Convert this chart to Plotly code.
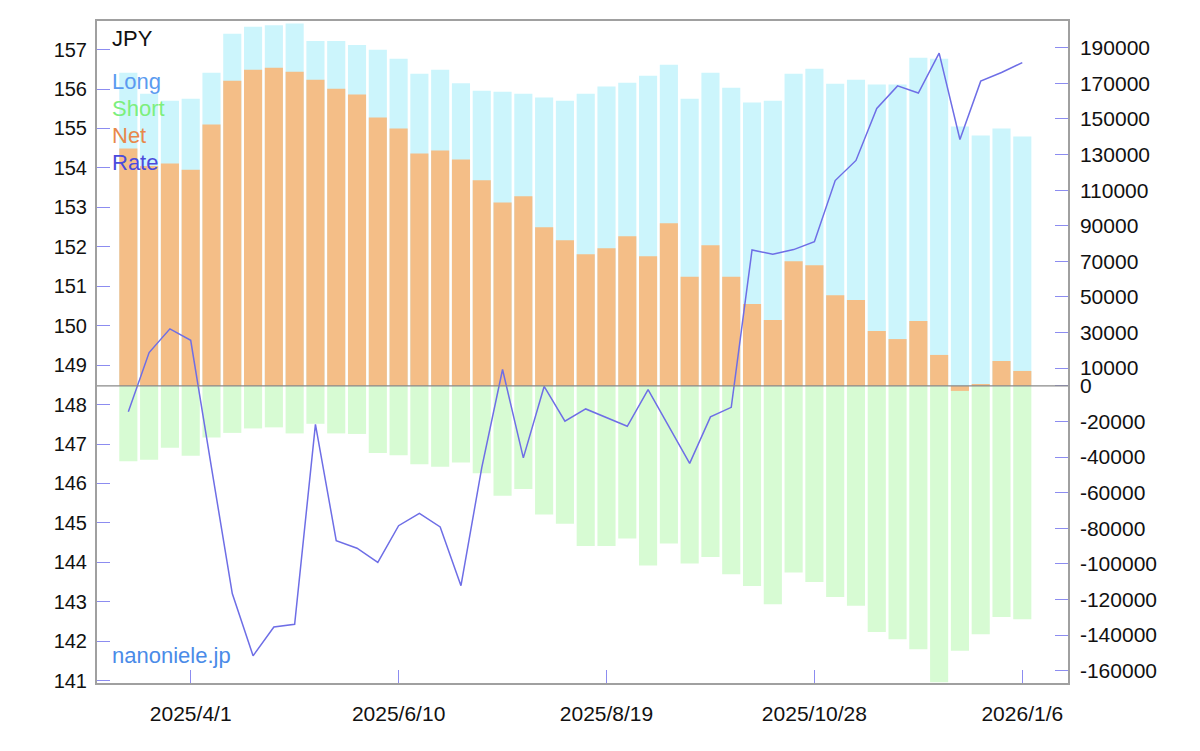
import plotly.graph_objects as go

dates = ["2025-03-11", "2025-03-18", "2025-03-25", "2025-04-01", "2025-04-08", "2025-04-15",
         "2025-04-22", "2025-04-29", "2025-05-06", "2025-05-13", "2025-05-20", "2025-05-27",
         "2025-06-03", "2025-06-10", "2025-06-17", "2025-06-24", "2025-07-01", "2025-07-08",
         "2025-07-15", "2025-07-22", "2025-07-29", "2025-08-05", "2025-08-12", "2025-08-19",
         "2025-08-26", "2025-09-02", "2025-09-09", "2025-09-16", "2025-09-23", "2025-09-30",
         "2025-10-07", "2025-10-14", "2025-10-21", "2025-10-28", "2025-11-04", "2025-11-11",
         "2025-11-18", "2025-11-25", "2025-12-02", "2025-12-09", "2025-12-16", "2025-12-23",
         "2025-12-30", "2026-01-06"]

long_pos = [176000, 164200, 160300, 161400, 176000, 197900, 201800, 202700, 203600, 193800,
            193800, 191500, 188900, 183800, 175400, 177700, 170000, 165900, 165300, 164200,
            162000, 160300, 164200, 168200, 170400, 174300, 180500, 161400, 176000, 167600,
            159200, 160300, 175400, 178200, 169800, 172100, 169300, 169300, 184400, 183800,
            145700, 140700, 144600, 140100]

short_pos = [-42400, -41500, -34800, -39200, -29000, -26400, -23900, -23300, -26700, -21300,
             -26700, -27000, -37700, -39000, -44100, -45500, -43000, -49100, -61700, -57900,
             -72300, -77400, -90000, -90000, -85800, -100900, -88600, -99800, -96200, -105900,
             -112500, -122700, -104800, -110200, -118600, -123600, -138300, -142400, -148000, -166500,
             -148900, -139600, -129900, -131200]

net_pos = [133400, 123500, 125000, 121500, 146900, 171500, 177700, 178800, 176600, 172100,
           167000, 163700, 150800, 144600, 130600, 132300, 127200, 115500, 103100, 106500,
           89100, 81800, 74000, 77300, 84100, 72900, 91400, 61300, 79000, 61300,
           46000, 37000, 70100, 67800, 51000, 48200, 30800, 26300, 36400, 17400,
           -2800, 700, 14000, 8400]

rate = [147.82, 149.32, 149.92, 149.63, 146.40, 143.21, 141.63, 142.36, 142.43, 147.50,
        144.55, 144.36, 144.00, 144.93, 145.24, 144.90, 143.41, 146.40, 148.89, 146.65,
        148.46, 147.58, 147.89, 147.66, 147.45, 148.38, 147.45, 146.51, 147.69, 147.93,
        151.92, 151.81, 151.93, 152.13, 153.68, 154.19, 155.51, 156.08, 155.90, 156.91,
        154.72, 156.20, 156.42, 156.67]

x_tickvals = ["2025-04-01", "2025-06-10", "2025-08-19", "2025-10-28", "2026-01-06"]
x_ticktext = ["2025/4/1", "2025/6/10", "2025/8/19", "2025/10/28", "2026/1/6"]

pos_tickvals = [-160000, -140000, -120000, -100000, -80000, -60000, -40000, -20000, 0,
                10000, 30000, 50000, 70000, 90000, 110000, 130000, 150000, 170000, 190000]
pos_ticktext = [str(v) for v in pos_tickvals]
rate_tickvals = list(range(141, 158))

FONT = "Liberation Sans, Arial, Helvetica, sans-serif"
bar_w = 6.1 * 86400000

fig = go.Figure()
fig.add_trace(go.Bar(x=dates, y=long_pos, name="Long", width=bar_w,
                     marker=dict(color="#CCF5FC", line=dict(width=0)), yaxis="y"))
fig.add_trace(go.Bar(x=dates, y=short_pos, name="Short", width=bar_w,
                     marker=dict(color="#D7FBD3", line=dict(width=0)), yaxis="y"))
fig.add_trace(go.Bar(x=dates, y=net_pos, name="Net", width=bar_w,
                     marker=dict(color="#F4BE87", line=dict(width=0)), yaxis="y"))
fig.add_trace(go.Scatter(x=dates, y=rate, name="Rate", mode="lines",
                         line=dict(color="#6E6EE6", width=1.5), yaxis="y2"))

tickc = "#8C8CF0"
fig.update_layout(
    width=1200, height=751,
    margin=dict(l=89, r=140, t=11, b=76),
    paper_bgcolor="white", plot_bgcolor="white",
    barmode="overlay", showlegend=False,
    font=dict(family=FONT, size=21, color="#111"),
    xaxis=dict(type="date", range=["2025-02-28 10:48", "2026-01-21 09:20"],
               tickvals=x_tickvals, ticktext=x_ticktext,
               ticks="inside", ticklen=13, tickcolor=tickc, tickwidth=1,
               showline=True, linecolor="#A0A0A0", linewidth=1.5, mirror=True,
               showgrid=False, zeroline=False, ticklabelstandoff=11,
               tickfont=dict(size=21, color="#111")),
    yaxis=dict(side="right", range=[-166955, 205050], tickvals=pos_tickvals,
               ticktext=pos_ticktext,
               ticks="inside", ticklen=13, tickcolor=tickc, tickwidth=1,
               showline=True, linecolor="#A0A0A0", linewidth=1.5, mirror=True,
               showgrid=False, zeroline=False, ticklabelstandoff=6,
               tickfont=dict(size=21, color="#111")),
    yaxis2=dict(side="left", overlaying="y", range=[140.942, 157.725],
                tickvals=rate_tickvals,
                ticks="inside", ticklen=13, tickcolor=tickc, tickwidth=1,
                showline=False, showgrid=False, zeroline=False, ticklabelstandoff=9,
                tickfont=dict(size=20, color="#111")),
)

fig.add_shape(type="line", xref="paper", x0=0, x1=1, yref="y", y0=0, y1=0,
              line=dict(color="#8A8A8A", width=1.4), layer="above")

ann = [("JPY", "#111111", 37), ("Long", "#5B9BF0", 80), ("Short", "#7CEF7C", 107),
       ("Net", "#E8884A", 134), ("Rate", "#4B4BDD", 161), ("nanoniele.jp", "#4A8BE8", 655)]
for txt, col, ypx in ann:
    fig.add_annotation(text=txt, xref="paper", yref="paper",
                       x=(110 - 97) / 971, y=(683 - ypx) / 664,
                       xanchor="left", yanchor="middle", showarrow=False,
                       font=dict(family=FONT, size=22, color=col))

fig.write_html("out.html")
